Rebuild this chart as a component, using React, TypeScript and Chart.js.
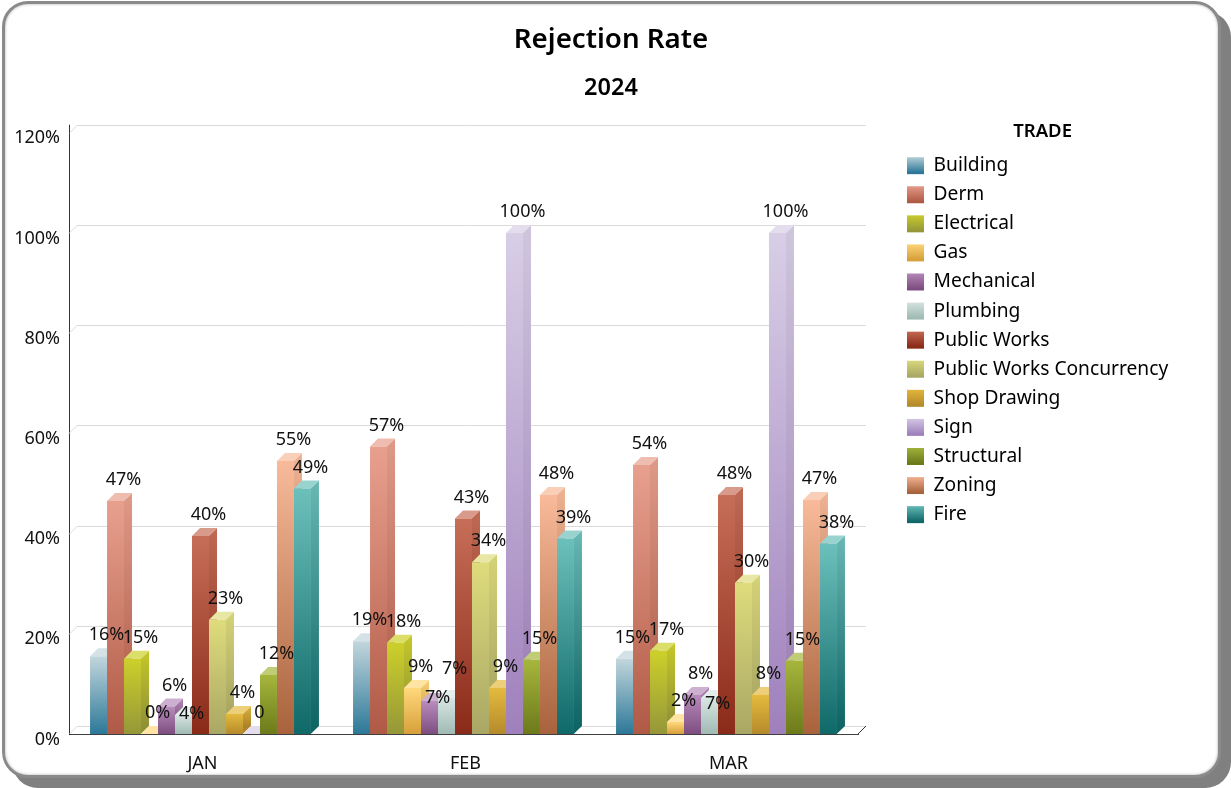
import React, { useEffect, useRef } from "react";
import { Chart, registerables } from "chart.js";

Chart.register(...registerables);

const FONT = '"Noto Sans", "Open Sans", sans-serif';
const DEPTH = 8;

const months = ["JAN", "FEB", "MAR"];
const yTicks = [0, 20, 40, 60, 80, 100, 120];
const trades = [
  "Building", "Derm", "Electrical", "Gas", "Mechanical", "Plumbing", "Public Works",
  "Public Works Concurrency", "Shop Drawing", "Sign", "Structural", "Zoning", "Fire",
];
const building = [15.5, 18.5, 15];
const derm = [46.5, 57.4, 53.7];
const electrical = [15, 18.2, 16.6];
const gas = [0, 9.2, 2.4];
const mechanical = [5.5, 6.6, 7.8];
const plumbing = [3.8, 7.2, 7.2];
const publicWorks = [39.5, 43, 47.7];
const concurrency = [22.8, 34.3, 30.2];
const shopDrawing = [4, 9.2, 7.8];
const sign = [0, 100, 100];
const structural = [11.8, 14.8, 14.6];
const zoning = [54.5, 47.7, 46.7];
const fire = [49, 39, 38];
const seriesValues = [
  building, derm, electrical, gas, mechanical, plumbing, publicWorks,
  concurrency, shopDrawing, sign, structural, zoning, fire,
];
const signLabels = ["0", "100%", "100%"];

const colors: [string, string][] = [
  ["#C2D6DC", "#2C7898"],
  ["#E8A08E", "#B05A46"],
  ["#CDD02A", "#959739"],
  ["#FFD87C", "#D6A03A"],
  ["#B88CBC", "#7E4D80"],
  ["#D8E6E3", "#A0BAB4"],
  ["#C76E58", "#8A2A18"],
  ["#DEDC7C", "#A9A764"],
  ["#E4BA3E", "#B58A2B"],
  ["#D8CEE6", "#9F80BC"],
  ["#A6B63C", "#6C7A1A"],
  ["#F8BA9A", "#A8633C"],
  ["#6CC0BC", "#0F6968"],
];

// vertical nudges (px) for labels the original moved out of each other's way: "series:month"
const labelNudge: Record<string, number> = {
  "5:0": -20,
  "4:1": -18,
  "5:1": 8,
  "5:2": -27,
};

function rgb(hex: string) {
  return [1, 3, 5].map((i) => parseInt(hex.slice(i, i + 2), 16));
}
function shade(hex: string, f: number) {
  const [r, g, b] = rgb(hex);
  return `rgb(${Math.round(r * f)},${Math.round(g * f)},${Math.round(b * f)})`;
}
function tint(hex: string, f: number) {
  const [r, g, b] = rgb(hex);
  const m = (c: number) => Math.round(c + (255 - c) * f);
  return `rgb(${m(r)},${m(g)},${m(b)})`;
}
function grad(ctx: CanvasRenderingContext2D, y0: number, y1: number, a: string, b: string) {
  const g = ctx.createLinearGradient(0, y0, 0, y1);
  g.addColorStop(0, a);
  g.addColorStop(1, b);
  return g;
}

const LEGEND_LEFT = 900;
const LEGEND_TOP = 122;

const bars3d = {
  id: "bars3d",
  beforeDraw(chart: any) {
    chart.boxes.forEach((b: any) => {
      if (b.position === "top" && b.options && b.options.text) {
        b.right = chart.width;
        b.width = chart.width;
      }
    });
    const legend = chart.legend;
    legend.left = LEGEND_LEFT - legend.options.labels.padding + 7;
    legend.right = legend.left + 291;
    legend.width = 291;
    legend.top = LEGEND_TOP;
    legend.bottom = LEGEND_TOP + 450;
    legend.height = 450;
    legend.legendItems.forEach((item: any, i: number) => {
      const y = 155.5 + i * 29.08;
      item.fillStyle = grad(chart.ctx, y, y + 17, colors[i][0], colors[i][1]);
    });
  },
  beforeDatasetsDraw(chart: any) {
    const { ctx, chartArea: area, scales } = chart;
    ctx.save();
    ctx.strokeStyle = "#DADADA";
    ctx.lineWidth = 1;
    yTicks.forEach((t) => {
      const y = Math.round(scales.y.getPixelForValue(t)) + 0.5;
      ctx.beginPath();
      ctx.moveTo(area.left, y);
      ctx.lineTo(area.left + DEPTH, y - DEPTH);
      ctx.lineTo(area.right + DEPTH, y - DEPTH);
      ctx.stroke();
    });
    ctx.strokeStyle = "#333";
    ctx.beginPath();
    ctx.moveTo(area.left + 0.5, area.top - DEPTH);
    ctx.lineTo(area.left + 0.5, area.top);
    ctx.moveTo(area.right, area.bottom);
    ctx.lineTo(area.right + DEPTH, area.bottom - DEPTH);
    ctx.stroke();
    ctx.restore();

    chart.data.datasets.forEach((_: any, di: number) => {
      const meta = chart.getDatasetMeta(di);
      const [a, b] = colors[di];
      meta.data.forEach((el: any) => {
        const { x, y, base, width } = el.getProps(["x", "y", "base", "width"], true);
        const l = x - width / 2;
        const r = x + width / 2;
        ctx.save();
        if (base - y > 0.5) {
          ctx.fillStyle = grad(ctx, y - DEPTH, base - DEPTH, shade(a, 0.96), shade(b, 0.96));
          ctx.beginPath();
          ctx.moveTo(r - 0.3, y);
          ctx.lineTo(r + DEPTH, y - DEPTH);
          ctx.lineTo(r + DEPTH, base - DEPTH);
          ctx.lineTo(r - 0.3, base);
          ctx.closePath();
          ctx.fill();
        }
        ctx.fillStyle = tint(a, 0.3);
        ctx.beginPath();
        ctx.moveTo(l, y);
        ctx.lineTo(l + DEPTH, y - DEPTH);
        ctx.lineTo(r + DEPTH, y - DEPTH);
        ctx.lineTo(r, y);
        ctx.closePath();
        ctx.fill();
        ctx.restore();
      });
      meta.controller.draw();
    });
  },
  beforeDatasetDraw() {
    return false;
  },
  afterDatasetsDraw(chart: any) {
    const { ctx } = chart;
    ctx.save();
    ctx.font = `18px ${FONT}`;
    ctx.fillStyle = "#111";
    ctx.textAlign = "center";
    ctx.textBaseline = "middle";
    chart.data.datasets.forEach((ds: any, di: number) => {
      chart.getDatasetMeta(di).data.forEach((el: any, mi: number) => {
        const { x, y } = el.getProps(["x", "y"], true);
        const text = di === 9 ? signLabels[mi] : `${Math.round(ds.data[mi])}%`;
        ctx.fillText(text, x + DEPTH, y - DEPTH - 13 - (labelNudge[`${di}:${mi}`] || 0));
      });
    });
    ctx.restore();
  },
};

export default function App() {
  const ref = useRef<HTMLCanvasElement>(null);
  useEffect(() => {
    const chart = new Chart(ref.current as HTMLCanvasElement, {
      type: "bar",
      data: {
        labels: months,
        datasets: trades.map((label, i) => ({
          label,
          data: seriesValues[i],
          categoryPercentage: 0.84,
          barPercentage: 1,
          backgroundColor: (c: any) => {
            if (c.type !== "data") return colors[i][1];
            const ys = c.chart.scales.y;
            return grad(c.chart.ctx, ys.getPixelForValue(c.parsed.y), ys.getPixelForValue(0), colors[i][0], colors[i][1]);
          },
          borderWidth: 0,
        })),
      },
      options: {
        animation: false,
        responsive: false,
        devicePixelRatio: 1,
        layout: { padding: { right: 94 } },
        plugins: {
          title: {
            display: true,
            text: "Rejection Rate",
            color: "#000",
            font: { family: FONT, size: 27.7, weight: "600", lineHeight: 1.2 },
            padding: { top: 23, bottom: 18 },
          },
          subtitle: {
            display: true,
            text: "2024",
            color: "#000",
            font: { family: FONT, size: 23.5, weight: "600", lineHeight: 1.2 },
            padding: { top: 0, bottom: 30.3 },
          },
          legend: {
            position: "right",
            align: "start",
            maxWidth: 270,
            title: {
              display: true,
              text: "TRADE",
              color: "#000",
              font: { family: FONT, size: 18.5, weight: "600" },
              padding: { top: 0, bottom: 2 },
            },
            labels: {
              boxWidth: 17,
              boxHeight: 17,
              padding: 9.88,
              color: "#111",
              font: { family: FONT, size: 19.2 },
              generateLabels: () =>
                trades.map((t, i) => ({
                  text: t,
                  fillStyle: colors[i][1],
                  strokeStyle: "transparent",
                  lineWidth: 0,
                  hidden: false,
                  datasetIndex: i,
                })),
            },
          },
          tooltip: { enabled: false },
        },
        scales: {
          x: {
            grid: { display: false, drawTicks: false },
            border: { display: true, color: "rgba(0,0,0,0.75)", z: 1 },
            ticks: { color: "#111", font: { family: FONT, size: 18 }, padding: 19, labelOffset: 2, maxRotation: 0 },
            afterFit: (s: any) => {
              s.height = 46;
            },
          },
          y: {
            min: 0,
            max: 120,
            grid: { display: false, drawTicks: false },
            border: { display: true, color: "#333" },
            ticks: {
              stepSize: 20,
              color: "#111",
              padding: 9,
              labelOffset: 5.5,
              font: { family: FONT, size: 18 },
              callback: (v: any) => `${v}%`,
            },
            afterFit: (s: any) => {
              s.width = 69;
            },
          },
        },
      },
      plugins: [bars3d],
    } as any);
    return () => chart.destroy();
  }, []);
  return (
    <div style={{ position: "fixed", left: 0, top: 0, width: 1231, height: 788, background: "#fff", overflow: "hidden" }}>
      <div
        style={{
          position: "absolute",
          left: 2,
          top: 1,
          width: 1213,
          height: 771,
          border: "3px solid #8a8a8a",
          borderRadius: 26,
          boxShadow: "10px 10px 0 #808080, inset 0 0 3px #aaa",
          background: "#fff",
        }}
      />
      <canvas ref={ref} width={1222} height={780} style={{ position: "absolute", left: 0, top: 0, display: "block" }} />
    </div>
  );
}
